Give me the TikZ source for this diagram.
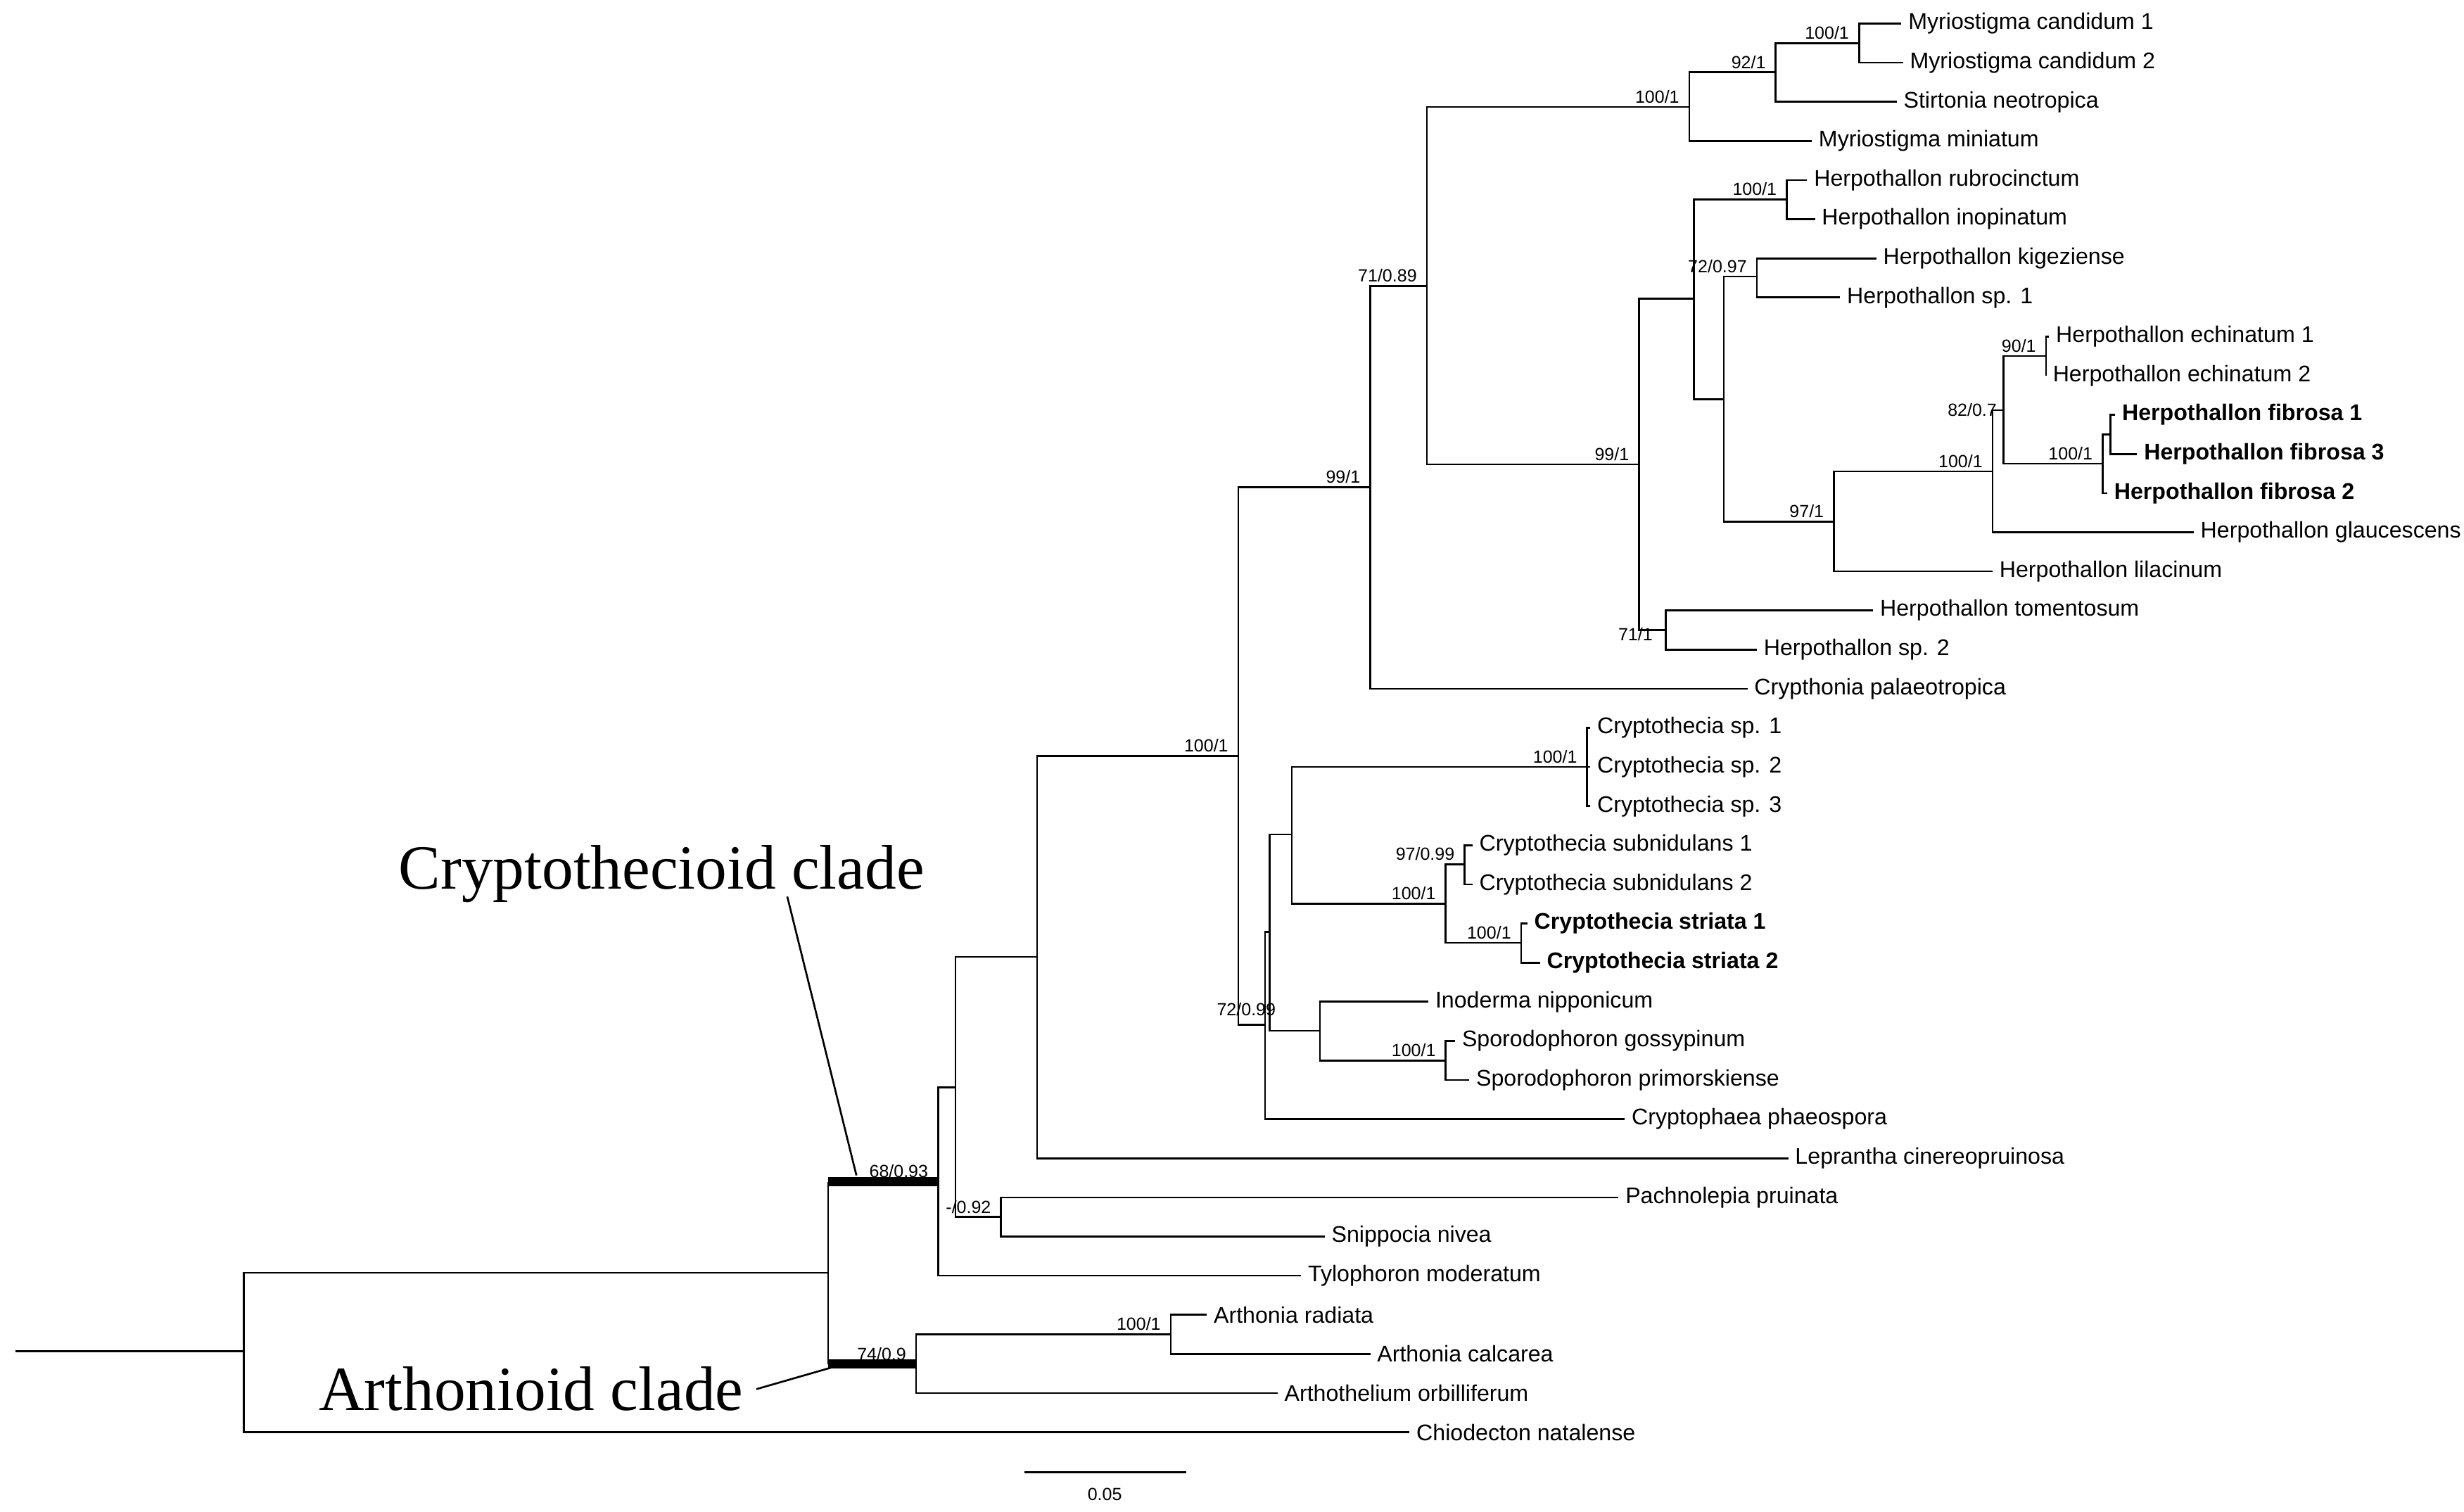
\documentclass[tikz,border=0pt]{standalone}
\usepackage{fontspec}
\setmainfont{Liberation Sans}
\newfontfamily\serifclade{Liberation Serif}
\begin{document}
\begin{tikzpicture}[x=0.5pt,y=-0.5pt,
  br/.style={line width=0.6pt},
  thick br/.style={line width=3pt},
  taxon/.style={anchor=west,inner sep=2pt,font=\fontsize{7.2}{8}\selectfont},
  btaxon/.style={taxon,font=\fontsize{7.2}{8}\selectfont\bfseries},
  sup/.style={anchor=south east,inner sep=1pt,font=\fontsize{5.6}{6}\selectfont},
  supb/.style={anchor=north east,inner sep=1pt,font=\fontsize{5.6}{6}\selectfont},
  clade/.style={font=\serifclade\fontsize{20}{22}\selectfont,inner sep=0pt}]
\useasboundingbox (0,0) rectangle (1568,962);
\def\ry#1{\fpeval{15+24.9*#1}}
% tips
\foreach \i/\x in {0/1210,1/1211,2/1207,3/1153,4/1150,5/1155,6/1194,7/1171,8/1304,9/1302,10/1346,11/1360,12/1341,13/1396,14/1268,15/1192,16/1118,17/1112,18/1012,19/1012,20/1012,21/937,22/937,23/972,24/980,25/909,26/926,27/935,28/1034,29/1138,30/1030,31/843,32/828,33/768,34/872,35/813,36/897}
  {\coordinate (t\i) at (\x,{15+24.9*\i});}
% taxon labels
\foreach \i/\t in {0/Myriostigma candidum 1,1/Myriostigma candidum 2,2/Stirtonia neotropica,3/Myriostigma miniatum,4/Herpothallon rubrocinctum,5/Herpothallon inopinatum,6/Herpothallon kigeziense,7/Herpothallon sp. 1,8/Herpothallon echinatum 1,9/Herpothallon echinatum 2,13/Herpothallon glaucescens,14/Herpothallon lilacinum,15/Herpothallon tomentosum,16/Herpothallon sp. 2,17/Crypthonia palaeotropica,18/Cryptothecia sp. 1,19/Cryptothecia sp. 2,20/Cryptothecia sp. 3,21/Cryptothecia subnidulans 1,22/Cryptothecia subnidulans 2,25/Inoderma nipponicum,26/Sporodophoron gossypinum,27/Sporodophoron primorskiense,28/Cryptophaea phaeospora,29/Leprantha cinereopruinosa,30/Pachnolepia pruinata,31/Snippocia nivea,32/Tylophoron moderatum,33/Arthonia radiata,34/Arthonia calcarea,35/Arthothelium orbilliferum,36/Chiodecton natalense}
  {\node[taxon] (L\i) at (t\i) {\t};}
\foreach \i/\t in {10/Herpothallon fibrosa 1,11/Herpothallon fibrosa 3,12/Herpothallon fibrosa 2,23/Cryptothecia striata 1,24/Cryptothecia striata 2}
  {\node[btaxon] (L\i) at (t\i) {\t};}
% internal nodes
\coordinate (a) at (1183,27.5);
\coordinate (b) at (1130,46);
\coordinate (c) at (1075,68);
\coordinate (d) at (1137,126.9);
\coordinate (e) at (1118,176);
\coordinate (j) at (1302,226.6);
\coordinate (l) at (1343,276.4);
\coordinate (k) at (1338,295);
\coordinate (i) at (1275,261);
\coordinate (h) at (1268,300);
\coordinate (g) at (1167,332);
\coordinate (f) at (1097,254);
\coordinate (m) at (1078,190);
\coordinate (o) at (1060,401);
\coordinate (n) at (1043,295.5);
\coordinate (p) at (908,182);
\coordinate (q) at (872,310);
\coordinate (r) at (1010,488);
\coordinate (s) at (932,550);
\coordinate (u) at (968,600);
\coordinate (v) at (920,575);
\coordinate (w) at (822,531);
\coordinate (z) at (920,675);
\coordinate (x8) at (840,656);
\coordinate (bb) at (808,593);
\coordinate (aa) at (805,652);
\coordinate (cc) at (788,481);
\coordinate (dd) at (660,609);
\coordinate (ee) at (637,774.5);
\coordinate (ff) at (608,692);
\coordinate (gg) at (597,752);
\coordinate (hh) at (745,849);
\coordinate (ii) at (583,868);
\coordinate (jj) at (527,810);
\coordinate (kk) at (155,860);
\coordinate (root) at (10,860);
% branches
\foreach \p/\c in {a/t0,a/t1,b/a,b/t2,c/b,c/t3,d/t4,d/t5,e/t6,e/t7,j/t8,j/t9,l/t10,l/t11,k/l,k/t12,i/j,i/k,h/i,h/t13,g/h,g/t14,f/e,f/g,m/d,m/f,o/t15,o/t16,n/m,n/o,p/c,p/n,q/p,q/t17,r/t18,r/t19,r/t20,s/t21,s/t22,u/t23,u/t24,v/s,v/u,w/r,w/v,z/t26,z/t27,x8/t25,x8/z,bb/w,bb/x8,aa/bb,aa/t28,cc/q,cc/aa,dd/cc,dd/t29,ee/t30,ee/t31,ff/dd,ff/ee,gg/ff,gg/t32,hh/t33,hh/t34,ii/hh,ii/t35,kk/jj,kk/t36}
  {\draw[br] (\p) |- (\c);}
\draw[br] (jj |- gg) -- (jj |- ii);
\draw[thick br] (jj |- gg) -- (gg);
\draw[thick br] (jj |- ii) -- (ii);
\draw[br] (root) -- (kk);
% support values
\foreach \n/\t in {a/100\slash 1,b/92\slash 1,c/100\slash 1,d/100\slash 1,e/72\slash 0.97,j/90\slash 1,k/100\slash 1,h/100\slash 1,g/97\slash 1,n/99\slash 1,p/71\slash 0.89,q/99\slash 1,r/100\slash 1,s/97\slash 0.99,u/100\slash 1,v/100\slash 1,z/100\slash 1,cc/100\slash 1,ee/-\slash 0.92,gg/68\slash 0.93,hh/100\slash 1,ii/74\slash 0.9}
  {\node[sup] at ([xshift=-2]\n) {\t};}
\node[sup,anchor=east] at ([xshift=-1]i) {82/0.7};
\node[supb] at ([xshift=-3,yshift=2]o) {71/1};
\node[supb,anchor=north west] at ([xshift=-34,yshift=10]x8) {72/0.99};
% clade labels
\node[clade] (cryL) at (421,556) {Cryptothecioid clade};
\node[clade] (artL) at (338,884) {Arthonioid clade};
\coordinate (cryP) at (545,748);
\coordinate (artP) at (530,870);
\draw[br] ([xshift=40,yshift=2]cryL.south) -- (cryP);
\draw[br] ([xshift=4]artL.east) -- (artP);
% scale bar
\coordinate (sb1) at (652,937);
\coordinate (sb2) at (755,937);
\draw[br] (sb1) -- (sb2);
\node[font=\fontsize{5.6}{6}\selectfont] (sbl) at (703,951) {0.05};
\end{tikzpicture}
\end{document}
